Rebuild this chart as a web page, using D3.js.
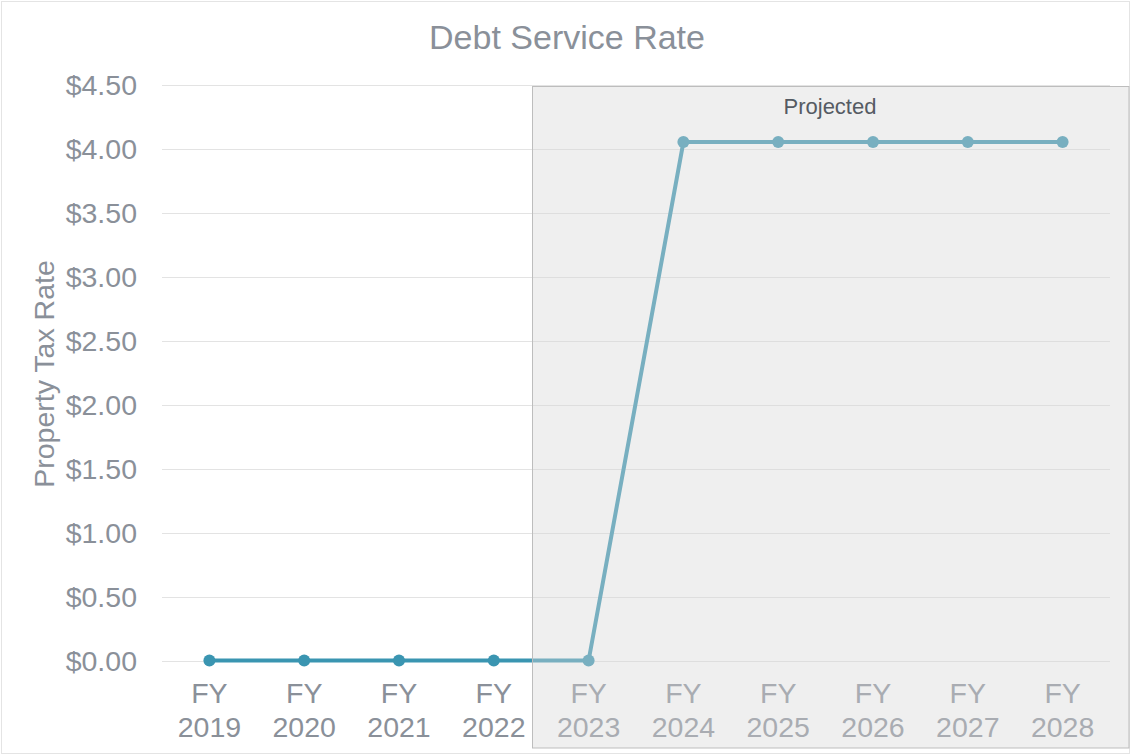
<!DOCTYPE html>
<html><head><meta charset="utf-8">
<script src="https://cdn.jsdelivr.net/npm/d3@7"></script>
<style>body{margin:0;background:#fff;font-family:"Liberation Sans",Arial,sans-serif;}</style>
</head><body><svg id="c" width="1131" height="755"></svg>
<script>
const categories = ["FY 2019","FY 2020","FY 2021","FY 2022","FY 2023","FY 2024","FY 2025","FY 2026","FY 2027","FY 2028"];
const values = [0,0,0,0,0,4.05,4.05,4.05,4.05,4.05];
const yTicks = [0,0.5,1,1.5,2,2.5,3,3.5,4,4.5];
const projectedStart = "FY 2023";

const svg = d3.select("#c");
const W=1131,H=755;
const m={l:162,r:21,t:84.5,b:94.5};
svg.append("rect").attr("x",1.5).attr("y",1.5).attr("width",W-3).attr("height",H-3).attr("fill","#fff").attr("stroke","#e4e4e4");

const x=d3.scaleBand().domain(categories).range([m.l,W-m.r]);
const y=d3.scaleLinear().domain([0,4.5]).range([H-m.b,m.t]);
const tc="#8a9099";

svg.append("text").attr("x",567).attr("y",49).attr("text-anchor","middle").attr("fill",tc).attr("font-size",34).text("Debt Service Rate");

const g=svg.append("g");
g.selectAll("line.grid").data(yTicks).join("line").attr("class","grid")
 .attr("x1",m.l).attr("x2",W-m.r).attr("y1",d=>Math.round(y(d))+0.5).attr("y2",d=>Math.round(y(d))+0.5)
 .attr("stroke","#e3e3e3").attr("stroke-width",1);
g.selectAll("text.yt").data(yTicks).join("text").attr("class","yt")
 .attr("x",137).attr("y",d=>y(d)+10).attr("text-anchor","end").attr("fill",tc).attr("font-size",28.5)
 .text(d=>"$"+d.toFixed(2));
svg.append("text").attr("transform","translate(54,374) rotate(-90)").attr("text-anchor","middle")
 .attr("fill",tc).attr("font-size",28.5).text("Property Tax Rate");

const xl=g.selectAll("text.xt").data(categories).join("text").attr("class","xt")
 .attr("x",d=>x(d)+x.bandwidth()/2).attr("text-anchor","middle").attr("fill",tc).attr("font-size",28.5);
xl.append("tspan").attr("x",d=>x(d)+x.bandwidth()/2).attr("y",703).text(d=>d.split(" ")[0]);
xl.append("tspan").attr("x",d=>x(d)+x.bandwidth()/2).attr("y",737).text(d=>d.split(" ")[1]);

const pts=categories.map((c,i)=>[x(c)+x.bandwidth()/2,y(values[i])]);
svg.append("path").attr("d",d3.line()(pts)).attr("fill","none").attr("stroke","#3a95b1").attr("stroke-width",4);
svg.selectAll("circle").data(pts).join("circle").attr("cx",d=>d[0]).attr("cy",d=>d[1]).attr("r",6).attr("fill","#3a95b1");

svg.append("rect").attr("x",532.5).attr("y",86.5).attr("width",W-2-532.5).attr("height",748-86.5)
 .attr("fill","rgba(215,215,215,0.4)").attr("stroke","#bdbdbd").attr("stroke-width",1);
svg.append("text").attr("x",830).attr("y",114).attr("text-anchor","middle").attr("fill","#555b63").attr("font-size",22).text("Projected");
</script></body></html>
